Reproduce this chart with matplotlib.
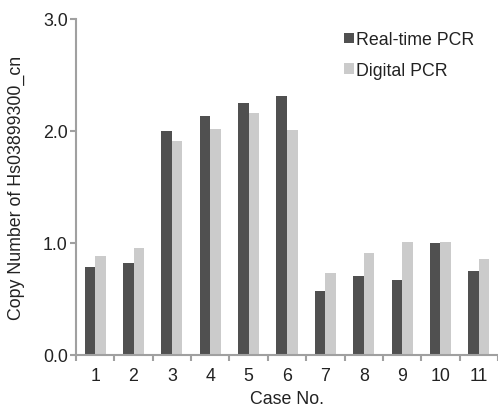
import numpy as np
import matplotlib.pyplot as plt

cases = ["1", "2", "3", "4", "5", "6", "7", "8", "9", "10", "11"]
real_time = [0.78, 0.815, 2.0, 2.13, 2.25, 2.31, 0.567, 0.70, 0.667, 1.0, 0.75]
digital = [0.88, 0.955, 1.91, 2.02, 2.16, 2.01, 0.727, 0.91, 1.007, 1.007, 0.855]

plt.rcParams['font.family'] = ['Liberation Sans', 'DejaVu Sans']
fs = 12.8

fig = plt.figure(figsize=(4.98, 4.14), dpi=100)
ax = fig.add_axes([0.1526, 0.1408, 0.8474, 0.811])

x = np.arange(1, len(cases) + 1)
w = 0.275
ax.bar(x - w / 2, real_time, w, color="#505050", label="Real-time PCR")
ax.bar(x + w / 2, digital, w, color="#cbcbcb", label="Digital PCR")

ax.set_xlim(0.5, 11.5)
ax.set_ylim(0, 3.0)
ax.set_yticks([0, 1, 2, 3])
ax.set_yticklabels(["0.0", "1.0", "2.0", "3.0"])
ax.set_xticks(x)
ax.set_xticklabels(cases)
ax.set_xticks(np.arange(0.5, 11.6, 1), minor=True)
ax.tick_params(axis="x", which="major", length=0, pad=9, labelsize=fs, labelcolor="#222222")
ax.tick_params(axis="x", which="minor", length=4, width=1.5, color="#a0a0a0")
ax.tick_params(axis="y", length=4, width=1.5, color="#a0a0a0", labelsize=fs, labelcolor="#222222", pad=2)

for s in ["top", "right"]:
    ax.spines[s].set_visible(False)
for s in ["left", "bottom"]:
    ax.spines[s].set_color("#a0a0a0")
    ax.spines[s].set_linewidth(1.5)

ax.set_xlabel("Case No.", fontsize=fs, color="#222222", labelpad=4)
ax.set_ylabel("Copy Number of Hs03899300_cn", fontsize=fs, color="#222222", labelpad=13)

ax.legend(loc="upper left", bbox_to_anchor=(0.605, 1.0), frameon=False, fontsize=fs,
          handlelength=0.55, handleheight=0.55, handletextpad=0.15, labelspacing=0.75,
          borderaxespad=0.3, labelcolor="#222222")

fig.savefig("out.png", dpi=100)
